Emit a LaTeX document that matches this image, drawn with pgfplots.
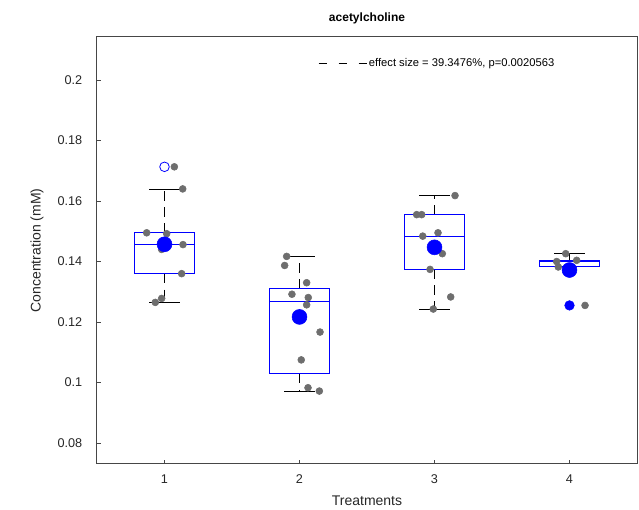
\documentclass[border=0pt]{standalone}
\usepackage{pgfplots}
\pgfplotsset{compat=1.18}
\usepackage{fontspec}
\setmainfont{Liberation Sans}
\definecolor{ptgray}{RGB}{110,110,110}
\definecolor{axgray}{RGB}{70,70,70}
\definecolor{bxblue}{RGB}{0,0,255}
\pgfplotsset{mylegimg/.style={legend image code/.code={\draw[##1] (0pt,0pt) -- (36pt,0pt);}}}
\begin{document}
\begin{tikzpicture}
\useasboundingbox (-72.75pt,-34.5pt) rectangle (406.5pt,348pt);
\begin{axis}[
  scale only axis,
  width=405pt, height=320.25pt,
  xmin=0.5, xmax=4.5, ymin=0.0731, ymax=0.2142,
  xtick={1,2,3,4},
  ytick={0.08,0.1,0.12,0.14,0.16,0.18,0.2},
  scaled y ticks=false,
  yticklabel style={/pgf/number format/fixed,/pgf/number format/precision=2},
  yticklabel shift=7.5pt,
  /pgf/number format/assume math mode=true,
  tick align=inside, tick pos=left,
  major tick length=3pt,
  axis line style={axgray, line width=0.75pt},
  every tick/.style={axgray, line width=0.6pt},
  ticklabel style={font=\fontsize{9.5}{11}\selectfont, text=black!85},
  xticklabel style={yshift=-4.5pt},
  xlabel={Treatments},
  ylabel={Concentration (mM)},
  label style={font=\fontsize{10.5}{12}\selectfont, text=black!85},
  xlabel style={at={(axis description cs:0.5,-0.0866)}, anchor=center},
  ylabel style={at={(axis description cs:-0.111,0.5)}, anchor=center},
  title={\textbf{acetylcholine}},
  title style={font=\fontsize{9}{10}\selectfont, at={(axis description cs:0.5,1.0258)}, anchor=center},
  legend style={at={(axis description cs:0.409,0.939)}, anchor=west, draw=none, fill=none,
    inner sep=0pt, font=\fontsize{8.4}{10}\selectfont, nodes={inner sep=1.5pt}},
  legend cell align=left,
  clip=false,
]
\addlegendimage{black, line width=0.6pt, dash pattern=on 6pt off 9pt, mylegimg}
\addlegendentry{effect size = 39.3476\%, p=0.0020563}

% ---- whiskers (dashed) ----
\pgfplotsset{wh/.style={black, line width=0.6pt, dash pattern=on 7pt off 5pt, forget plot}}
\pgfplotsset{cap/.style={black, line width=0.75pt, forget plot}}
\pgfplotsset{bx/.style={draw=bxblue, line width=0.75pt, forget plot}}
% box 1
\addplot[wh] coordinates {(1,0.1495) (1,0.1639)};
\addplot[wh] coordinates {(1,0.1360) (1,0.1266)};
\addplot[cap] coordinates {(0.887,0.1639) (1.113,0.1639)};
\addplot[cap] coordinates {(0.887,0.1266) (1.113,0.1266)};
% box 2
\addplot[wh] coordinates {(2,0.1310) (2,0.1417)};
\addplot[wh] coordinates {(2,0.1029) (2,0.0972)};
\addplot[cap] coordinates {(1.887,0.1417) (2.113,0.1417)};
\addplot[cap] coordinates {(1.887,0.0972) (2.113,0.0972)};
% box 3
\addplot[wh] coordinates {(3,0.1555) (3,0.1618)};
\addplot[wh] coordinates {(3,0.1374) (3,0.1243)};
\addplot[cap] coordinates {(2.887,0.1618) (3.113,0.1618)};
\addplot[cap] coordinates {(2.887,0.1243) (3.113,0.1243)};
% box 4
\addplot[wh] coordinates {(4,0.1404) (4,0.1426)};
\addplot[cap] coordinates {(3.887,0.1426) (4.113,0.1426)};
\addplot[cap] coordinates {(3.887,0.1382) (4.113,0.1382)};

% ---- boxes ----
\addplot[bx] coordinates {(0.775,0.1360) (1.225,0.1360) (1.225,0.1495) (0.775,0.1495) (0.775,0.1360)};
\addplot[bx] coordinates {(0.775,0.1456) (1.225,0.1456)};
\addplot[bx] coordinates {(1.775,0.1029) (2.225,0.1029) (2.225,0.1310) (1.775,0.1310) (1.775,0.1029)};
\addplot[bx] coordinates {(1.775,0.1268) (2.225,0.1268)};
\addplot[bx] coordinates {(2.775,0.1374) (3.225,0.1374) (3.225,0.1555) (2.775,0.1555) (2.775,0.1374)};
\addplot[bx] coordinates {(2.775,0.1484) (3.225,0.1484)};
\addplot[bx] coordinates {(3.775,0.1382) (4.225,0.1382) (4.225,0.1404) (3.775,0.1404) (3.775,0.1382)};
\addplot[bx] coordinates {(3.775,0.1400) (4.225,0.1400)};

% ---- outliers ----
\addplot[only marks, mark=o, mark size=3.6pt, bxblue, mark options={line width=0.6pt}, forget plot] coordinates {(1.0,0.1713)};

% ---- data points ----
\addplot[only marks, mark=*, mark size=2.6pt, ptgray, mark options={draw=ptgray, fill=ptgray}, forget plot] coordinates {
 (1.073,0.1713) (1.135,0.1640) (0.868,0.1495) (1.016,0.1492) (0.979,0.1440)
 (1.137,0.1456) (1.127,0.1360) (0.979,0.1278) (0.932,0.1265)
 (1.905,0.1417) (1.890,0.1387) (2.053,0.1330) (1.944,0.1292) (2.065,0.1281)
 (2.053,0.1257) (2.152,0.1167) (2.013,0.1075) (2.063,0.0983) (2.147,0.0972)
 (3.152,0.1618) (2.868,0.1555) (2.905,0.1555) (2.913,0.1484) (3.026,0.1495)
 (3.058,0.1426) (2.967,0.1374) (3.120,0.1283) (2.991,0.1243)
 (3.972,0.1426) (3.905,0.1400) (4.053,0.1404) (3.917,0.1382) (4.115,0.1255)
};

% ---- means ----
\addplot[only marks, mark=*, mark size=5.6pt, bxblue, forget plot] coordinates {
 (1,0.1457) (2,0.1217) (3,0.1447) (4,0.1372)
};
\addplot[only marks, mark=*, mark size=3.6pt, bxblue, forget plot] coordinates {(4,0.1255)};
\end{axis}
\end{tikzpicture}
\end{document}
